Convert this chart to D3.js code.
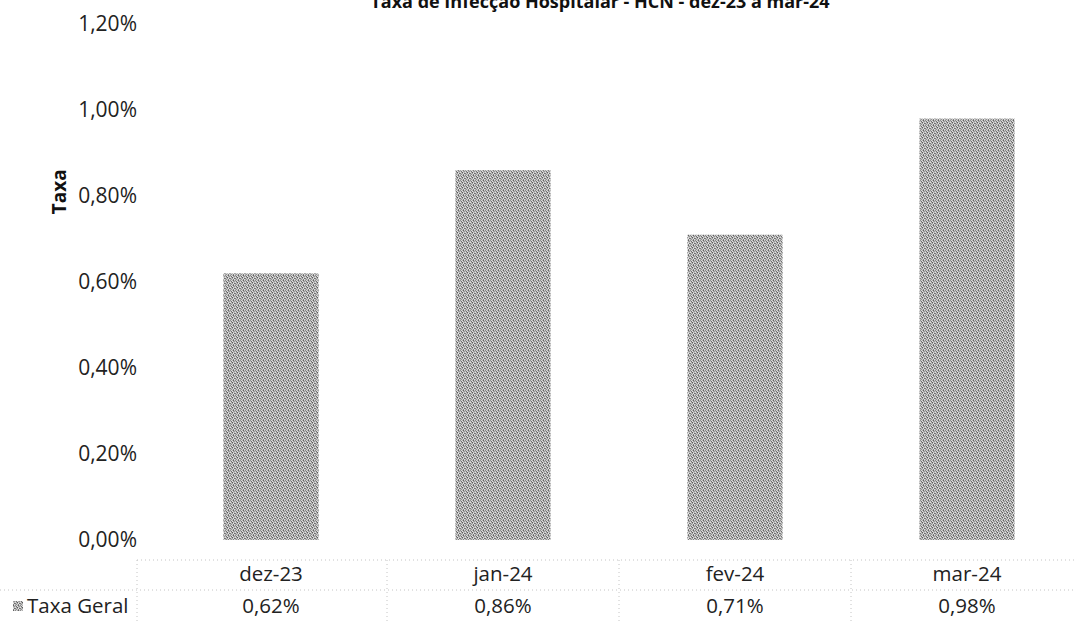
<!DOCTYPE html>
<html>
<head>
<meta charset="utf-8">
<script src="https://cdn.jsdelivr.net/npm/d3@7"></script>
<style>
  body { margin: 0; background: #fff; }
  svg { display: block; font-family: "Open Sans", Calibri, sans-serif; }
  .tick-label { font-size: 21px; fill: #222; }
  .title { font-size: 18px; font-weight: 700; fill: #111; }
  .axis-title { font-size: 19px; font-weight: 700; fill: #111; }
  .table-text { font-size: 20.5px; fill: #222; }
  .grid { stroke: #c4c4c4; stroke-width: 1; stroke-dasharray: 1 3; }
</style>
</head>
<body>
<div id="vis"></div>
<script>
// chart values
const months = ["dez-23", "jan-24", "fev-24", "mar-24"]
const taxaGeral = [0.0062, 0.0086, 0.0071, 0.0098]
const yTicks = [0, 0.002, 0.004, 0.006, 0.008, 0.010, 0.012]
const seriesName = "Taxa Geral"
const titleText = "Taxa de Infecção Hospitalar - HCN - dez-23 a mar-24"

const w = 1074, h = 622
const margin = {top: 24, bottom: 82, left: 155}
const plotRight = 1083

const fmt = v => (v * 100).toFixed(2).replace(".", ",") + "%"

const svg = d3.select("#vis").append("svg")
  .attr("width", w)
  .attr("height", h)

// grainy grey fill, like the scanned bars (fixed 5x5 tile)
const grain = [
  "8a", "d6", "b0", "62", "c8",
  "c0", "70", "e4", "a4", "96",
  "e0", "a8", "5c", "cc", "b8",
  "7c", "c4", "9c", "e8", "6e",
  "b4", "92", "d0", "80", "dc"
]
const defs = svg.append("defs")
const pat = defs.append("pattern")
  .attr("id", "grain")
  .attr("width", 5).attr("height", 5)
  .attr("patternUnits", "userSpaceOnUse")
grain.forEach((g, i) => {
  pat.append("rect")
    .attr("x", i % 5).attr("y", Math.floor(i / 5))
    .attr("width", 1).attr("height", 1)
    .attr("fill", "#" + g + g + g)
})

const x = d3.scaleBand()
  .domain(months)
  .range([margin.left, plotRight])
  .paddingInner(0.59)
  .paddingOuter(0.295)

const y = d3.scaleLinear()
  .domain([0, 0.012])
  .range([h - margin.bottom, margin.top])

// title (partly cut off at the top, as in the scan)
svg.append("text")
  .attr("class", "title")
  .attr("x", 600)
  .attr("y", 8)
  .attr("text-anchor", "middle")
  .text(titleText)

// y tick labels
svg.append("g").selectAll("text")
  .data(yTicks)
  .enter().append("text")
    .attr("class", "tick-label")
    .attr("x", 137)
    .attr("y", d => y(d))
    .attr("dy", "0.35em")
    .attr("text-anchor", "end")
    .text(fmt)

// y axis title
svg.append("text")
  .attr("class", "axis-title")
  .attr("transform", `translate(66, ${y(0.0081)}) rotate(-90)`)
  .attr("text-anchor", "middle")
  .text("Taxa")

// bars
svg.append("g").selectAll("rect")
  .data(months)
  .enter().append("rect")
    .attr("x", d => x(d))
    .attr("y", (d, i) => y(taxaGeral[i]))
    .attr("width", x.bandwidth())
    .attr("height", (d, i) => y(0) - y(taxaGeral[i]))
    .attr("fill", "url(#grain)")

// data table under the chart
const rowTop = 560, rowMid = 590, rowBottom = 622
const table = svg.append("g")

table.append("line").attr("class", "grid")
  .attr("x1", 137).attr("x2", w).attr("y1", rowTop).attr("y2", rowTop)
table.append("line").attr("class", "grid")
  .attr("x1", 0).attr("x2", w).attr("y1", rowMid).attr("y2", rowMid)
table.append("line").attr("class", "grid")
  .attr("x1", 137).attr("x2", 137).attr("y1", rowTop).attr("y2", rowBottom)

table.selectAll(".sep")
  .data(months.slice(1))
  .enter().append("line")
    .attr("class", "grid sep")
    .attr("x1", d => x(d) - x.step() * x.paddingInner() / 2)
    .attr("x2", d => x(d) - x.step() * x.paddingInner() / 2)
    .attr("y1", rowTop).attr("y2", rowBottom)

table.selectAll(".cat")
  .data(months)
  .enter().append("text")
    .attr("class", "table-text cat")
    .attr("x", d => x(d) + x.bandwidth() / 2)
    .attr("y", 574)
    .attr("dy", "0.35em")
    .attr("text-anchor", "middle")
    .text(d => d)

table.selectAll(".val")
  .data(months)
  .enter().append("text")
    .attr("class", "table-text val")
    .attr("x", d => x(d) + x.bandwidth() / 2)
    .attr("y", 606)
    .attr("dy", "0.35em")
    .attr("text-anchor", "middle")
    .text((d, i) => fmt(taxaGeral[i]))

// legend key + series name
table.append("rect")
  .attr("x", 13).attr("y", 601)
  .attr("width", 10).attr("height", 10)
  .attr("fill", "url(#grain)")

table.append("text")
  .attr("class", "table-text")
  .attr("x", 27)
  .attr("y", 606)
  .attr("dy", "0.35em")
  .text(seriesName)
</script>
</body>
</html>
